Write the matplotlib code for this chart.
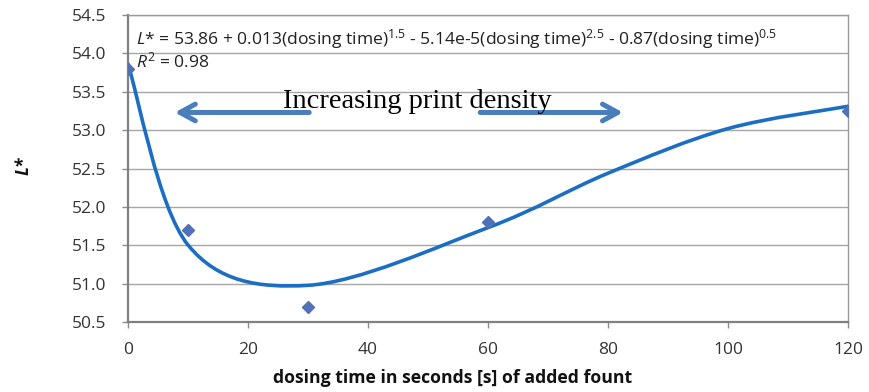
import matplotlib
matplotlib.use("Agg")
import matplotlib.pyplot as plt
from matplotlib.path import Path
from matplotlib.patches import PathPatch
import numpy as np

# measured points
dosing_time = [0, 10, 30, 60, 120]
l_star = [53.8, 51.7, 50.7, 51.8, 53.25]

# trend line coefficients (equation shown on the chart)
c0 = 53.86
c15 = 0.013
c25 = -5.14e-5
c05 = -0.87
# times at which the trend was evaluated for the smoothed line
trend_times = [0, 10, 30, 60, 80, 100, 120]

xticks = [0, 20, 40, 60, 80, 100, 120]
yticks = [50.5, 51.0, 51.5, 52.0, 52.5, 53.0, 53.5, 54.0, 54.5]

plt.rcParams['font.family'] = ['Open Sans', 'DejaVu Sans']
plt.rcParams['mathtext.fontset'] = 'custom'
plt.rcParams['mathtext.rm'] = 'Open Sans'
plt.rcParams['mathtext.it'] = 'Open Sans:italic'
plt.rcParams['mathtext.bf'] = 'Open Sans:bold'

fig = plt.figure(figsize=(8.69, 3.92), dpi=100)
ax = fig.add_axes([0.1473, 0.1786, 0.8285, 0.7831])

# trend evaluated at trend_times, drawn as an excel style smoothed line
ft = np.array(trend_times, dtype=float)
fy = c0 + c15 * ft**1.5 + c25 * ft**2.5 + c05 * ft**0.5
pts = np.column_stack([ft, fy])
ext = np.vstack([pts[0], pts, pts[-1]])
verts = [pts[0]]
codes = [Path.MOVETO]
for i in range(len(pts) - 1):
    p0, p1, p2, p3 = ext[i], ext[i + 1], ext[i + 2], ext[i + 3]
    verts += [p1 + (p2 - p0) / 6, p2 - (p3 - p1) / 6, p2]
    codes += [Path.CURVE4] * 3
ax.add_patch(PathPatch(Path(verts, codes), fill=False, edgecolor='#1B6EC2',
                       lw=2.6, zorder=3, capstyle='round'))

ax.plot(dosing_time, l_star, 'D', color='#5270B5', ms=6.5, zorder=4)

ax.set_xlim(0, 120)
ax.set_ylim(50.5, 54.5)
ax.set_xticks(xticks)
ax.set_yticks(yticks)
ax.set_yticklabels([f"{v:.1f}" for v in yticks])
ax.grid(axis='y', color='#A6A6A6', lw=1)
ax.set_axisbelow(True)
ax.tick_params(axis='both', labelsize=12.5, labelcolor='#333333', length=4.5,
               width=1, color='#8C8C8C', direction='out')
ax.tick_params(axis='y', pad=11)
ax.tick_params(axis='x', pad=10)
for s in ['left', 'bottom']:
    ax.spines[s].set_color('#808080')
    ax.spines[s].set_linewidth(1.6)
for s in ['top', 'right']:
    ax.spines[s].set_color('#9A9A9A')
    ax.spines[s].set_linewidth(1)

ax.set_xlabel("dosing time in seconds [s] of added fount", fontsize=12.7,
              fontweight='bold', color='#111111', va='center')
ax.xaxis.set_label_coords(0.451, -0.182)
ax.set_ylabel("L*", fontsize=12.5, fontweight='bold', fontstyle='italic',
              color='#111111', va='center')
ax.yaxis.set_label_coords(-0.145, 0.51)

eq = ("$L$* = 53.86 + 0.013(dosing time)$^{1.5}$ - 5.14e-5(dosing time)$^{2.5}$"
      " - 0.87(dosing time)$^{0.5}$")
ax.text(1.3, 54.19, eq, fontsize=12.6, va='center', ha='left', color='#202020')
ax.text(1.3, 53.89, "$R^{2}$ = 0.98", fontsize=12.6, va='center', ha='left',
        color='#202020')

ax.text(25.8, 53.29, "Increasing print density", family='Liberation Serif',
        fontsize=20.5, ha='left', va='baseline', color='black', zorder=5)
arrow = dict(arrowstyle='->,head_length=1.1,head_width=0.6', color='#4A7EBB',
             lw=3.6, shrinkA=0, shrinkB=0)
ax.annotate("", xy=(7.8, 53.23), xytext=(30.2, 53.23), arrowprops=arrow)
ax.annotate("", xy=(82.5, 53.23), xytext=(58.7, 53.23), arrowprops=arrow)

fig.savefig("out.png", dpi=100)
